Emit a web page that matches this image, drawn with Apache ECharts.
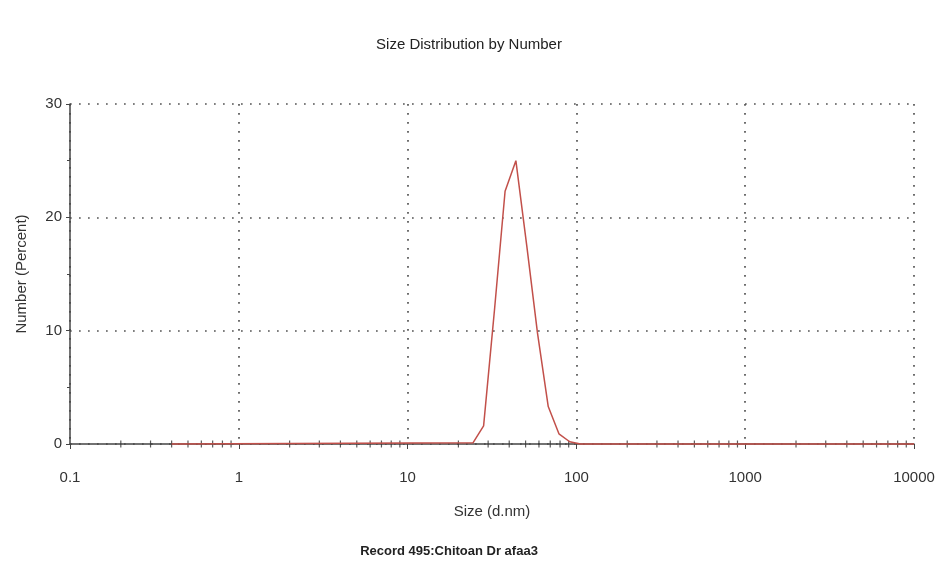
<!DOCTYPE html>
<html>
<head>
<meta charset="utf-8">
<script src="https://cdn.jsdelivr.net/npm/echarts@6/dist/echarts.min.js"></script>
<style>
  html, body { margin: 0; padding: 0; background: #fff; }
  #chart { width: 952px; height: 579px; }
</style>
</head>
<body>
<div id="chart"></div>
<script>
// Size distribution by number (DLS), log size axis
const titleText = 'Size Distribution by Number';
const recordText = 'Record 495:Chitoan Dr afaa3';
const xAxisName = 'Size (d.nm)';
const yAxisName = 'Number (Percent)';

// particle size bins (d.nm) and number percentage
const sizes = [0.4, 24.4, 28.2, 32.7, 37.8, 43.8, 50.8, 58.8, 68.1, 78.8, 91.3, 105.7, 10000];
const numbers = [0, 0.1, 1.6, 11.8, 22.3, 25.0, 17.5, 9.8, 3.3, 0.9, 0.2, 0, 0];

// decade tick labels and minor tick multipliers on the size axis
const xDecades = [0.1, 1, 10, 100, 1000, 10000];
const minorMultipliers = [2, 3, 4, 5, 6, 7, 8, 9];

const minorTicks = [];
for (let i = 0; i < xDecades.length - 1; i++) {
  for (const m of minorMultipliers) {
    minorTicks.push([+(xDecades[i] * m).toPrecision(6), 0]);
  }
}

const font = 'Liberation Sans, Arial, sans-serif';
const axisColor = '#444';
const gridDots = { color: '#555', width: 1.7, type: [1.7, 7.3] };

const chart = echarts.init(document.getElementById('chart'));
chart.setOption({
  animation: false,
  backgroundColor: '#fff',
  title: [
    {
      text: titleText, left: 464, top: 32, textAlign: 'center',
      textStyle: { fontFamily: font, fontSize: 15, fontWeight: 'normal', color: '#222' }
    },
    {
      text: recordText, left: 444, top: 540, textAlign: 'center',
      textStyle: { fontFamily: font, fontSize: 13, fontWeight: 'bold', color: '#222' }
    }
  ],
  grid: { left: 70, right: 38, top: 104, bottom: 135 },
  xAxis: {
    type: 'log', logBase: 10, min: 0.1, max: 10000,
    name: xAxisName, nameLocation: 'middle', nameGap: 60,
    nameTextStyle: { fontFamily: font, fontSize: 15, color: '#333' },
    axisLine: { show: true, onZero: false, lineStyle: { color: axisColor, width: 1.5 } },
    axisTick: { show: true, length: 5, lineStyle: { color: axisColor } },
    axisLabel: {
      fontFamily: font, fontSize: 15, color: '#333', margin: 26,
      formatter: v => String(+v.toPrecision(6))
    },
    splitLine: { show: true, lineStyle: gridDots },
    minorTick: { show: false },
    minorSplitLine: { show: false }
  },
  yAxis: {
    type: 'value', min: 0, max: 30, interval: 10,
    name: yAxisName, nameLocation: 'middle', nameGap: 41,
    nameTextStyle: { fontFamily: font, fontSize: 15, color: '#333' },
    axisLine: { show: true, lineStyle: { color: axisColor, width: 1.5 } },
    axisTick: { show: true, length: 4, lineStyle: { color: axisColor } },
    minorTick: { show: true, splitNumber: 2, length: 3, lineStyle: { color: axisColor } },
    axisLabel: { fontFamily: font, fontSize: 15, color: '#333', margin: 8 },
    splitLine: { show: true, lineStyle: gridDots }
  },
  series: [
    {
      type: 'scatter', silent: true, z: 3,
      symbol: 'rect', symbolSize: [1.2, 7],
      itemStyle: { color: '#333' },
      data: minorTicks
    },
    {
      type: 'line', silent: true, z: 4,
      symbol: 'none', smooth: false, clip: false,
      lineStyle: { color: '#c2504a', width: 1.5 },
      data: sizes.map((s, i) => [s, numbers[i]])
    }
  ]
});
</script>
</body>
</html>
